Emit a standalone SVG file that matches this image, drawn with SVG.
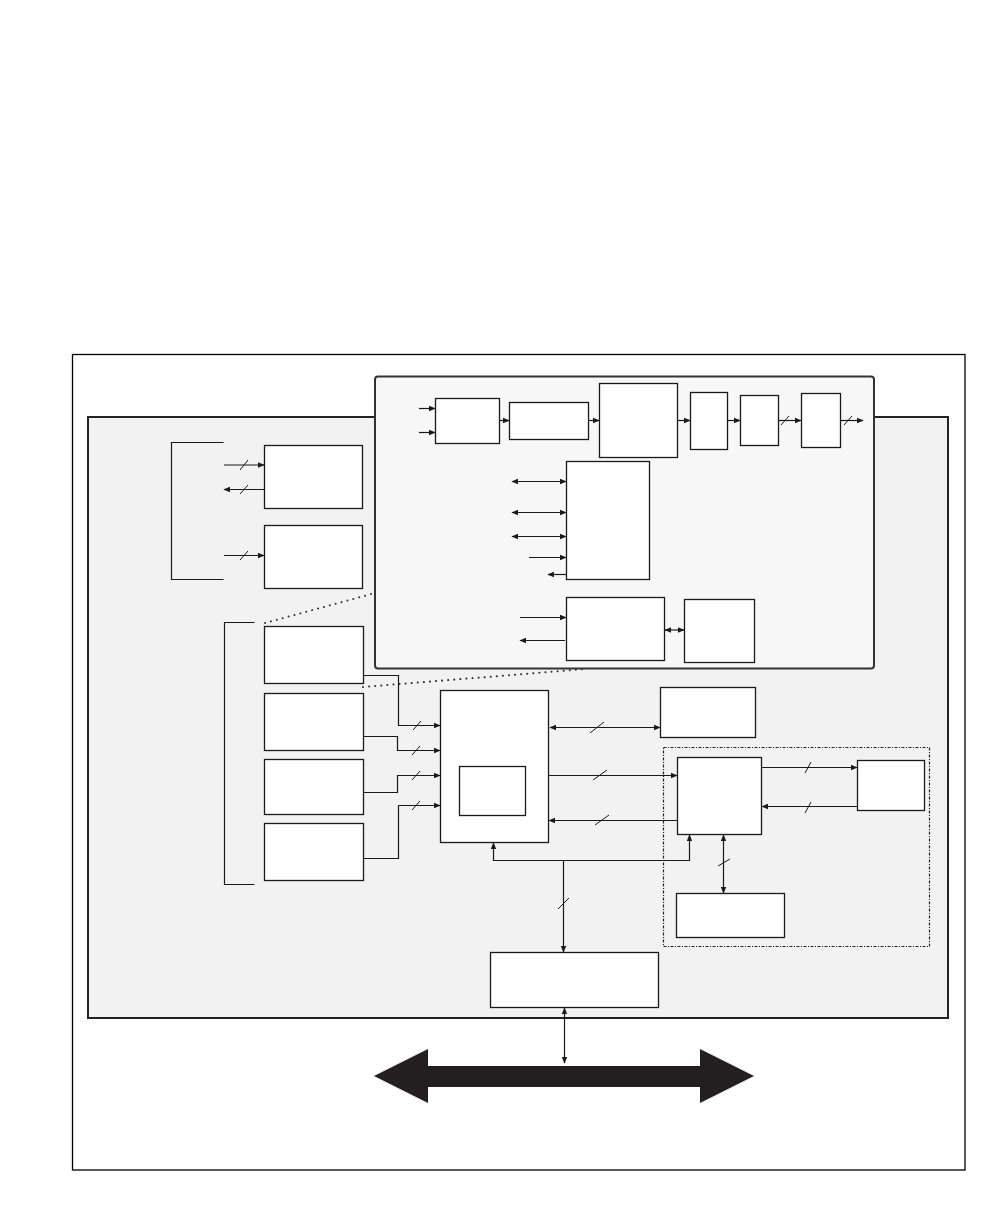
<svg xmlns="http://www.w3.org/2000/svg" width="1008" height="1224" viewBox="0 0 1008 1224">
<defs>
<style>
.box{fill:#fff;stroke:#1a1a1a;stroke-width:1.3}
.ln{fill:none;stroke:#1a1a1a;stroke-width:1.2}
.sl{stroke:#1a1a1a;stroke-width:1}
.dot{fill:none;stroke:#333;stroke-width:2;stroke-dasharray:0.1 6;stroke-linecap:round}
</style>
<marker id="ah" viewBox="0 0 10 10" refX="9" refY="5" markerWidth="7" markerHeight="7" orient="auto-start-reverse" markerUnits="userSpaceOnUse">
<path d="M0,1 L10,5 L0,9 z" fill="#1a1a1a"/>
</marker>
</defs>
<rect width="1008" height="1224" fill="#fff"/>
<g id="frame">
<rect x="72.5" y="354.5" width="892.5" height="815.5" fill="#fff" stroke="#000" stroke-width="1.3"/>
<rect x="88" y="417" width="860" height="601" fill="#f2f2f2" stroke="#222" stroke-width="2"/>
</g>
<g id="dotted">
<line class="dot" x1="265" y1="623" x2="375" y2="593"/>
<line class="dot" x1="363" y1="687" x2="585" y2="669"/>
</g>
<g id="popup">
<rect x="375" y="376.5" width="499" height="292" rx="3" fill="#f7f7f7" stroke="#333" stroke-width="2"/>
</g>
<g id="nodes">
<rect id="pA" class="box" x="435.5" y="398.5" width="64" height="45"/>
<rect id="pB" class="box" x="509.5" y="402.5" width="79" height="37"/>
<rect id="pC" class="box" x="599.5" y="383.5" width="78" height="74"/>
<rect id="pD" class="box" x="690.5" y="392.5" width="37" height="57"/>
<rect id="pE" class="box" x="740.5" y="395.5" width="38" height="50"/>
<rect id="pF" class="box" x="801.5" y="393.5" width="39" height="54"/>
<rect id="pG" class="box" x="566.5" y="461.5" width="83" height="118"/>
<rect id="pH" class="box" x="566.5" y="597.5" width="98" height="63"/>
<rect id="pI" class="box" x="684.5" y="599.5" width="70" height="63"/>
<rect id="J" class="box" x="264.5" y="445.5" width="98" height="63"/>
<rect id="K" class="box" x="264.5" y="525.5" width="98" height="63"/>
<rect id="L1" class="box" x="264.5" y="626.5" width="99" height="57"/>
<rect id="L2" class="box" x="264.5" y="693.5" width="99" height="57"/>
<rect id="L3" class="box" x="264.5" y="759.5" width="99" height="55"/>
<rect id="L4" class="box" x="264.5" y="823.5" width="99" height="57"/>
<g id="M">
<rect class="box" x="440.5" y="690.5" width="108" height="152"/>
<rect class="box" x="459.5" y="766.5" width="66" height="49"/>
</g>
<rect id="N" class="box" x="660.5" y="687.5" width="95" height="50"/>
<rect id="grp" x="663.5" y="747.5" width="266" height="199" fill="none" stroke="#222" stroke-width="1.2" stroke-dasharray="3 1.5 1 1.5"/>
<rect id="P" class="box" x="677.5" y="757.5" width="84" height="77"/>
<rect id="S" class="box" x="857.5" y="760.5" width="67" height="50"/>
<rect id="R" class="box" x="676.5" y="893.5" width="108" height="44"/>
<rect id="Q" class="box" x="490.5" y="952.5" width="168" height="55"/>
<path id="bus" d="M374,1076 L428,1049 L428,1066 L700,1066 L700,1049 L754,1076 L700,1103 L700,1087 L428,1087 L428,1103 Z" fill="#231f20"/>
</g>
<g id="connectors">
<!-- popup -->
<line class="ln" x1="419" y1="408.5" x2="435" y2="408.5" marker-end="url(#ah)"/>
<line class="ln" x1="419" y1="432.5" x2="435" y2="432.5" marker-end="url(#ah)"/>
<line class="ln" x1="499.5" y1="420.5" x2="509" y2="420.5" marker-end="url(#ah)"/>
<line class="ln" x1="588.5" y1="420.5" x2="599" y2="420.5" marker-end="url(#ah)"/>
<line class="ln" x1="677.5" y1="420.5" x2="690" y2="420.5" marker-end="url(#ah)"/>
<line class="ln" x1="727.5" y1="420.5" x2="740" y2="420.5" marker-end="url(#ah)"/>
<line class="ln" x1="778.5" y1="420.5" x2="801" y2="420.5" marker-end="url(#ah)"/>
<line class="sl" x1="781" y1="425" x2="789" y2="416"/>
<line class="ln" x1="840.5" y1="420.5" x2="863" y2="420.5" marker-end="url(#ah)"/>
<line class="sl" x1="844" y1="425" x2="852" y2="416"/>
<line class="ln" x1="512" y1="481.5" x2="566" y2="481.5" marker-start="url(#ah)" marker-end="url(#ah)"/>
<line class="ln" x1="512" y1="512.5" x2="566" y2="512.5" marker-start="url(#ah)" marker-end="url(#ah)"/>
<line class="ln" x1="512" y1="536.5" x2="566" y2="536.5" marker-start="url(#ah)" marker-end="url(#ah)"/>
<line class="ln" x1="529" y1="557.5" x2="566" y2="557.5" marker-end="url(#ah)"/>
<line class="ln" x1="566" y1="574.5" x2="548" y2="574.5" marker-end="url(#ah)"/>
<line class="ln" x1="520" y1="617.5" x2="566" y2="617.5" marker-end="url(#ah)"/>
<line class="ln" x1="565" y1="640.5" x2="520" y2="640.5" marker-end="url(#ah)"/>
<line class="ln" x1="665" y1="630" x2="684" y2="630" marker-start="url(#ah)" marker-end="url(#ah)"/>
<!-- left bracket 1 -->
<polyline class="ln" points="223.5,442.5 171.5,442.5 171.5,579.5 223.5,579.5"/>
<line class="ln" x1="224" y1="465" x2="264" y2="465" marker-end="url(#ah)"/>
<line class="sl" x1="240" y1="470" x2="248" y2="460"/>
<line class="ln" x1="264" y1="489.5" x2="224" y2="489.5" marker-end="url(#ah)"/>
<line class="sl" x1="240" y1="494" x2="248" y2="485"/>
<line class="ln" x1="224" y1="555.5" x2="264" y2="555.5" marker-end="url(#ah)"/>
<line class="sl" x1="240" y1="560" x2="248" y2="551"/>
<!-- left bracket 2 -->
<polyline class="ln" points="254.5,622.5 224.5,622.5 224.5,884.5 254.5,884.5"/>
<polyline class="ln" points="364,675.5 398.5,675.5 398.5,725.5 440,725.5" marker-end="url(#ah)"/>
<line class="sl" x1="413" y1="730" x2="421" y2="721"/>
<polyline class="ln" points="364,736.5 397.5,736.5 397.5,750.5 440,750.5" marker-end="url(#ah)"/>
<line class="sl" x1="412" y1="755" x2="420" y2="746"/>
<polyline class="ln" points="364,792.5 397.5,792.5 397.5,775.5 440,775.5" marker-end="url(#ah)"/>
<line class="sl" x1="412" y1="780" x2="420" y2="771"/>
<polyline class="ln" points="364,858.5 398.5,858.5 398.5,805.5 440,805.5" marker-end="url(#ah)"/>
<line class="sl" x1="412" y1="810" x2="420" y2="801"/>
<!-- M connections -->
<line class="ln" x1="550" y1="727.5" x2="660" y2="727.5" marker-start="url(#ah)" marker-end="url(#ah)"/>
<line class="sl" x1="590" y1="733" x2="604" y2="722"/>
<line class="ln" x1="549" y1="775.5" x2="677" y2="775.5" marker-end="url(#ah)"/>
<line class="sl" x1="593" y1="780" x2="607" y2="770"/>
<line class="ln" x1="677" y1="820.5" x2="549" y2="820.5" marker-end="url(#ah)"/>
<line class="sl" x1="595" y1="825" x2="609" y2="815"/>
<polyline class="ln" points="493.5,843 493.5,860.5 689.5,860.5 689.5,835" marker-start="url(#ah)" marker-end="url(#ah)"/>
<line class="ln" x1="563.5" y1="860.5" x2="563.5" y2="952" marker-end="url(#ah)"/>
<line class="sl" x1="558" y1="909" x2="569" y2="898"/>
<line class="ln" x1="564.5" y1="1008" x2="564.5" y2="1063" marker-start="url(#ah)" marker-end="url(#ah)"/>
<!-- group connections -->
<line class="ln" x1="762" y1="767.5" x2="857" y2="767.5" marker-end="url(#ah)"/>
<line class="sl" x1="805" y1="773" x2="811" y2="762"/>
<line class="ln" x1="857" y1="806.5" x2="762" y2="806.5" marker-end="url(#ah)"/>
<line class="sl" x1="805" y1="813" x2="811" y2="802"/>
<line class="ln" x1="723.5" y1="835" x2="723.5" y2="893" marker-start="url(#ah)" marker-end="url(#ah)"/>
<line class="sl" x1="718" y1="866" x2="730" y2="859"/>
</g>
</svg>
